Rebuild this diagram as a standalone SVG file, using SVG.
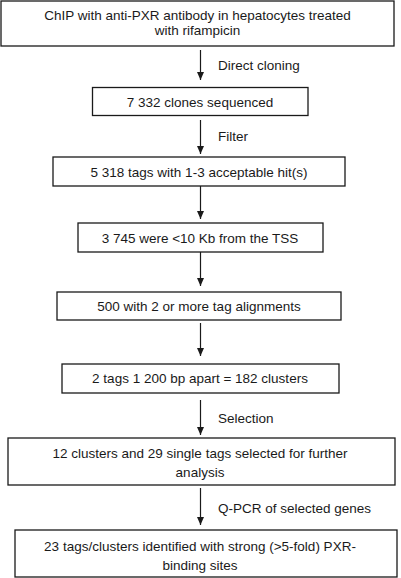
<svg xmlns="http://www.w3.org/2000/svg" width="401" height="578" viewBox="0 0 401 578">
<style>
.box{fill:#fff;stroke:#1a1a1a;stroke-width:1.3}
.t{font-family:"Liberation Sans",Arial,sans-serif;font-size:13.5px;fill:#1a1a1a;text-anchor:middle}
.l{font-family:"Liberation Sans",Arial,sans-serif;font-size:13.5px;fill:#1a1a1a}
.c{stroke:#1a1a1a;stroke-width:1.2;fill:none;marker-end:url(#ah)}
</style>
<defs>
<marker id="ah" viewBox="0 0 8 8" refX="8" refY="4" markerWidth="8" markerHeight="8" markerUnits="userSpaceOnUse" orient="auto">
<path d="M0,0.5 L8,4 L0,7.5 Z" fill="#1a1a1a"/>
</marker>
</defs>
<rect width="401" height="578" fill="#fff"/>
<g id="connectors">
<line class="c" x1="200.5" y1="50" x2="200.5" y2="80"/>
<line class="c" x1="200.5" y1="120" x2="200.5" y2="154"/>
<line class="c" x1="200.5" y1="186" x2="200.5" y2="219"/>
<line class="c" x1="200.5" y1="252" x2="200.5" y2="286"/>
<line class="c" x1="200.5" y1="323" x2="200.5" y2="356"/>
<line class="c" x1="200.5" y1="400" x2="200.5" y2="435"/>
<line class="c" x1="200.5" y1="488" x2="200.5" y2="525"/>
<text class="l" x="218" y="70">Direct cloning</text>
<text class="l" x="218" y="141">Filter</text>
<text class="l" x="218" y="423">Selection</text>
<text class="l" x="218" y="513">Q-PCR of selected genes</text>
</g>
<g id="n1">
<rect class="box" x="1" y="1" width="393" height="45"/>
<text class="t" x="197.5" y="20">ChIP with anti-PXR antibody in hepatocytes treated</text>
<text class="t" x="197.5" y="35">with rifampicin</text>
</g>
<g id="n2">
<rect class="box" x="92.5" y="87.5" width="215.5" height="28"/>
<text class="t" x="200" y="106.5">7 332 clones sequenced</text>
</g>
<g id="n3">
<rect class="box" x="53" y="157" width="292" height="29"/>
<text class="t" x="199" y="177">5 318 tags with 1-3 acceptable hit(s)</text>
</g>
<g id="n4">
<rect class="box" x="78" y="223" width="245" height="29"/>
<text class="t" x="200" y="243">3 745 were &lt;10 Kb from the TSS</text>
</g>
<g id="n5">
<rect class="box" x="57" y="292" width="284" height="28"/>
<text class="t" x="199" y="311">500 with 2 or more tag alignments</text>
</g>
<g id="n6">
<rect class="box" x="62" y="364" width="277" height="29"/>
<text class="t" x="200" y="383">2 tags 1 200 bp apart = 182 clusters</text>
</g>
<g id="n7">
<rect class="box" x="8" y="438" width="387" height="47"/>
<text class="t" x="200" y="458">12 clusters and 29 single tags selected for further</text>
<text class="t" x="200" y="477">analysis</text>
</g>
<g id="n8">
<rect class="box" x="15" y="530" width="382" height="47"/>
<text class="t" x="200" y="551">23 tags/clusters identified with strong (&gt;5-fold) PXR-</text>
<text class="t" x="200" y="570">binding sites</text>
</g>
</svg>
